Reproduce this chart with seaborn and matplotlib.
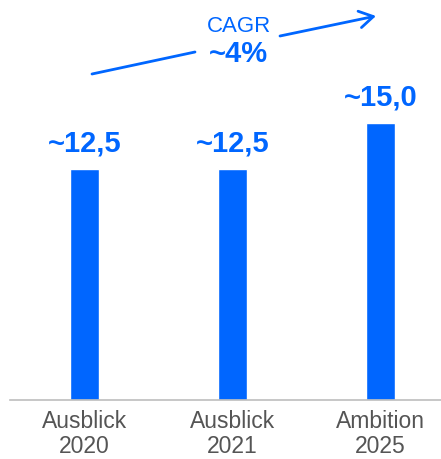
import matplotlib
matplotlib.use("Agg")
import matplotlib.pyplot as plt
import seaborn as sns
import pandas as pd
from matplotlib.patches import FancyArrowPatch
from matplotlib.lines import Line2D

categories = ["Ausblick\n2020", "Ausblick\n2021", "Ambition\n2025"]
values = [12.5, 12.5, 15.0]
value_labels = ["~12,5", "~12,5", "~15,0"]
cagr_title = "CAGR"
cagr_value = "~4%"

BLUE = "#0066ff"
W, H = 441, 459

sns.set_theme(style="white")
plt.rcParams["font.family"] = ["Liberation Sans", "DejaVu Sans"]

df = pd.DataFrame({"category": categories, "value": values})

fig = plt.figure(figsize=(W / 100, H / 100), dpi=100)
ax = fig.add_axes([10 / W, 59 / H, 431 / W, 400 / H])

sns.barplot(data=df, x="category", y="value", color=BLUE, width=0.196,
            saturation=1, ax=ax)

ax.set_xlim(-0.503, 2.409)
ax.set_ylim(0, 21.65)
ax.set_xlabel("")
ax.set_ylabel("")
ax.set_yticks([])
for side in ["top", "left", "right"]:
    ax.spines[side].set_visible(False)
ax.spines["bottom"].set_color("#bdbdbd")
ax.spines["bottom"].set_linewidth(1.2)
ax.tick_params(axis="x", length=0, pad=7.5, labelsize=16.5, labelcolor="#555555")
for lbl in ax.get_xticklabels():
    lbl.set_linespacing(1.08)

for i, (v, t) in enumerate(zip(values, value_labels)):
    ax.annotate(t, (i, v), xytext=(0, 8), textcoords="offset points",
                ha="center", va="bottom", fontsize=21, fontweight="bold",
                color=BLUE)

def fx(px):
    return px / W

def fy(py):
    return 1 - py / H

# growth arrow, interrupted by the CAGR label
fig.add_artist(Line2D([fx(92), fx(195)], [fy(74), fy(52)], color=BLUE,
                      lw=2, transform=fig.transFigure))
fig.add_artist(FancyArrowPatch((fx(280), fy(36)), (fx(376), fy(16)),
                               transform=fig.transFigure,
                               arrowstyle="->,head_length=10,head_width=6",
                               color=BLUE, lw=2, shrinkA=0, shrinkB=0))

fig.text(fx(238.5), fy(26.5), cagr_title, ha="center", va="center",
         fontsize=16, color=BLUE)
fig.text(fx(238.5), fy(53.5), cagr_value, ha="center", va="center",
         fontsize=21, fontweight="bold", color=BLUE)

fig.savefig("out.png", dpi=100)
